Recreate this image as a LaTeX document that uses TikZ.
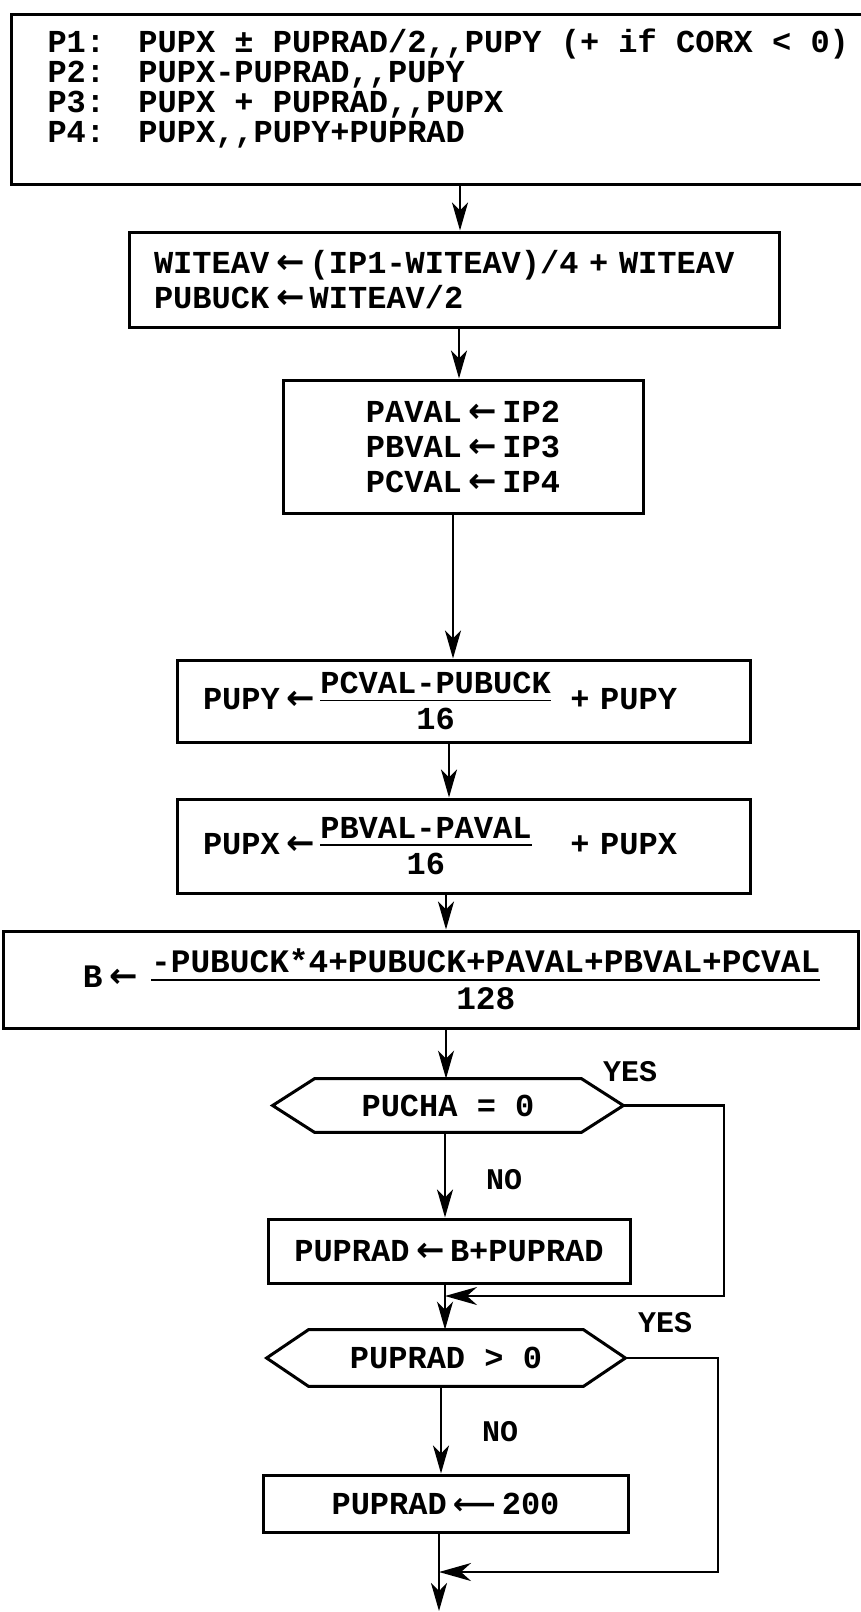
\documentclass[tikz,border=0pt]{standalone}
\RequirePackage{fix-cm}
\usepackage{fontspec}
\setmainfont{Liberation Mono}[Ligatures=TeXOff]
\newfontfamily\arrfont{DejaVu Sans}
\usetikzlibrary{arrows.meta}
\newcommand\fs{\bfseries\fontsize{16}{17.5}\selectfont}
\newcommand\la{\hspace{3.5pt}{\arrfont\bfseries\fontsize{17}{17}\selectfont ←}\hspace{2.5pt}}
\newcommand\lla{{\arrfont\bfseries\fontsize{15}{15}\selectfont ⟵}}
\newsavebox\fnumbox
\newsavebox\fdenbox
\newlength\fracw
\newcommand\myfrac[2]{%
  \sbox\fnumbox{#1}\sbox\fdenbox{#2}%
  \ifdim\wd\fnumbox>\wd\fdenbox \setlength\fracw{\wd\fnumbox}\else\setlength\fracw{\wd\fdenbox}\fi
  $\vcenter{\offinterlineskip
    \hbox to\fracw{\hfil\usebox\fnumbox\hfil}\kern3pt
    \hrule height0.9pt width\fracw
    \kern3.5pt
    \hbox to\fracw{\hfil\usebox\fdenbox\hfil}}$}
\newcommand\hexa[1]{\draw[line width=1.5pt] (#1.west) -- ([xshift=21pt]#1.north west) -- ([xshift=-21pt]#1.north east) -- (#1.east) -- ([xshift=-21pt]#1.south east) -- ([xshift=21pt]#1.south west) -- cycle;}
\tikzset{
  box/.style={draw, line width=1.5pt, inner sep=0pt, font=\fs},
  dec/.style={inner sep=0pt, font=\fs},
  lbl/.style={inner sep=0pt, font=\bfseries\fontsize{15}{15}\selectfont},
  conn/.style={line width=1.1pt, -{Stealth[length=14pt,width=8pt,inset=4pt]}},
  back/.style={line width=1.1pt, -{Stealth[length=16pt,width=9pt,inset=5pt]}}
}
\begin{document}
\begin{tikzpicture}[x=0.5pt,y=-0.5pt]
\useasboundingbox (0,0) rectangle (861,1612);
% columns for connectors
\coordinate (c1) at (460,0);
\coordinate (c2) at (459,0);
\coordinate (c3) at (453,0);
\coordinate (c4) at (449,0);
\coordinate (c5) at (446,0);
\coordinate (c6) at (446,0);
\coordinate (c7) at (445,0);
\coordinate (c8) at (445,0);
\coordinate (c9) at (441,0);
\coordinate (c10) at (439,0);

\node[box, anchor=north west] (top) at (10,13) {\begin{minipage}[c][85pt][t]{440pt}\bfseries\fontsize{16}{15}\selectfont
\rule{0pt}{19pt}\hspace*{18pt}\makebox[45.5pt][l]{P1:}PUPX ± PUPRAD/2,,PUPY (+ if CORX < 0)\\
\hspace*{18pt}\makebox[45.5pt][l]{P2:}PUPX-PUPRAD,,PUPY\\
\hspace*{18pt}\makebox[45.5pt][l]{P3:}PUPX + PUPRAD,,PUPX\\
\hspace*{18pt}\makebox[45.5pt][l]{P4:}PUPX,,PUPY+PUPRAD
\end{minipage}};

\node[box, minimum width=325pt, minimum height=47.5pt, align=left, text width=325pt] (b2) at (454,279.5)
  {\hspace*{12.5pt}WITEAV\la(IP1-WITEAV)/4 + WITEAV\\\hspace*{12.5pt}PUBUCK\la WITEAV/2};

\node[box, minimum width=180pt, minimum height=66.5pt, align=center] (b3) at (463,446.5)
  {PAVAL\la IP2\\PBVAL\la IP3\\PCVAL\la IP4};

\node[box, minimum width=286.5pt, minimum height=41pt, align=left, text width=286.5pt] (b4) at (463.5,701)
  {\hspace*{13pt}PUPY\la\makebox[125pt][l]{\myfrac{PCVAL-PUBUCK}{16}}+ PUPY};

\node[box, minimum width=286.5pt, minimum height=47pt, align=left, text width=286.5pt] (b5) at (463.5,846)
  {\hspace*{13pt}PUPX\la\makebox[125pt][l]{\myfrac{PBVAL-PAVAL}{16}}+ PUPX};

\node[box, minimum width=427.5pt, minimum height=48.5pt, align=left, text width=427.5pt,
      font=\bfseries\fontsize{16.4}{18}\selectfont] (b6) at (430.5,979.5)
  {\hspace*{40pt}B\la\hspace{4pt}\myfrac{-PUBUCK*4+PUBUCK+PAVAL+PBVAL+PCVAL}{128}};

\node[dec, minimum width=175pt, minimum height=26.5pt] (d1) at (448,1105.5) {PUCHA = 0};
\hexa{d1}

\node[box, minimum width=181pt, minimum height=32pt] (b7) at (449,1251) {PUPRAD\la B+PUPRAD};

\node[dec, minimum width=179pt, minimum height=28pt] (d2) at (446,1358) {PUPRAD > 0};
\hexa{d2}

\node[box, minimum width=182.5pt, minimum height=28.5pt] (b8) at (445.5,1503.5) {PUPRAD\hspace{3pt}\lla\hspace{3pt}200};

\node[lbl] (yes1) at (630,1072) {YES};
\node[lbl] (no1) at (504,1180) {NO};
\node[lbl] (yes2) at (665,1323) {YES};
\node[lbl] (no2) at (500,1432) {NO};

\coordinate (r1) at (724,1296);
\coordinate (j1) at (445,1296);
\coordinate (r2) at (718,1572);
\coordinate (j2) at (439,1572);
\coordinate (fin) at (439,1611);

\draw[conn] (top.south -| c1) -- (b2.north -| c1);
\draw[conn] (b2.south -| c2) -- (b3.north -| c2);
\draw[conn] (b3.south -| c3) -- (b4.north -| c3);
\draw[conn] (b4.south -| c4) -- (b5.north -| c4);
\draw[conn] (b5.south -| c5) -- (b6.north -| c5);
\draw[conn] (b6.south -| c6) -- (d1.north -| c6);
\draw[conn] (d1.south -| c7) -- (b7.north -| c7);
\draw[conn] (b7.south -| c8) -- (d2.north -| c8);
\draw[conn] (d2.south -| c9) -- (b8.north -| c9);
\draw[conn] (b8.south -| c10) -- (fin);
\draw[back] (d1.east) -| (r1) -- (j1);
\draw[back] (d2.east) -| (r2) -- (j2);
\end{tikzpicture}
\end{document}
